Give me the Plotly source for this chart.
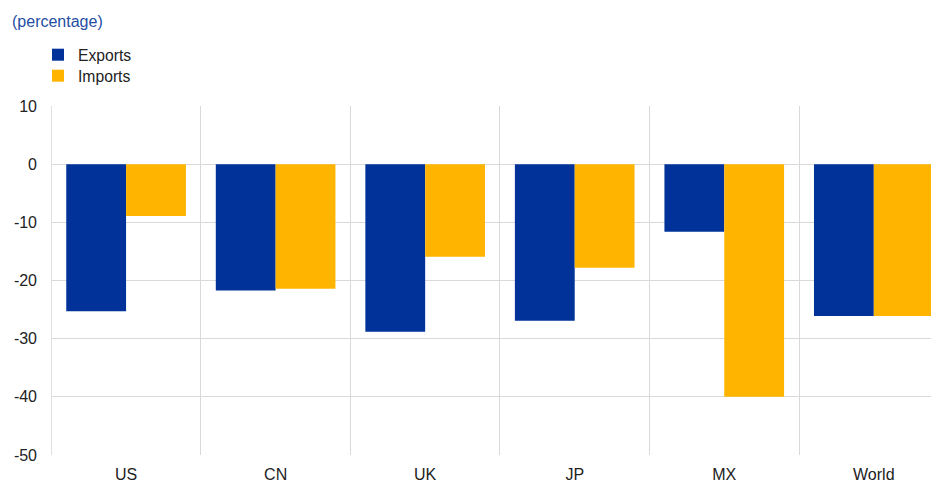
import plotly.graph_objects as go

categories = ["US", "CN", "UK", "JP", "MX", "World"]
exports = [-25.3, -21.7, -28.8, -26.9, -11.6, -26.1]
imports = [-8.9, -21.4, -15.9, -17.8, -40.0, -26.1]
y_ticks = [10, 0, -10, -20, -30, -40, -50]
y_ticktext = ["10", "0", "-10", "-20", "-30", "-40", "-50"]

fig = go.Figure()
fig.add_trace(go.Bar(x=categories, y=exports, name="Exports", marker_color="#003299",
                     marker_line_width=0, legend="legend"))
fig.add_trace(go.Bar(x=categories, y=imports, name="Imports", marker_color="#FFB400",
                     marker_line_width=0, legend="legend2"))

# page body has an 8px offset
L, T, W, H = 43, 98, 888, 349
FW, FH = 931, 474
leg_common = dict(xref="paper", yref="paper", xanchor="left", yanchor="middle",
                  orientation="v", bgcolor="rgba(0,0,0,0)", font=dict(size=15.7),
                  itemwidth=30)
fig.update_layout(
    width=FW, height=FH,
    margin=dict(l=L, r=0, t=T, b=FH - T - H, autoexpand=False),
    plot_bgcolor="white", paper_bgcolor="white",
    font=dict(family="Liberation Sans, Arial", size=16, color="#222222"),
    barmode="group", bargap=0.2, bargroupgap=0,
    showlegend=True,
    legend=dict(x=-13 / W, y=1 + (T - 47) / H, **leg_common),
    legend2=dict(x=-13 / W, y=1 + (T - 68) / H, **leg_common),
    annotations=[dict(text="(percentage)", xref="paper", yref="paper",
                      x=-41 / W, y=1 + (T - 13) / H, xanchor="left", yanchor="middle",
                      showarrow=False, font=dict(size=16, color="#1f4ea3"))],
    xaxis=dict(range=[-0.502, 5.436], tickson="boundaries", showgrid=True,
               gridcolor="#d9d9d9", gridwidth=1, ticks="", showline=False,
               automargin=False, ticklabelstandoff=8, tickfont=dict(size=16)),
    yaxis=dict(range=[-50, 10], tickvals=y_ticks, ticktext=y_ticktext, showgrid=True,
               gridcolor="#d9d9d9", zeroline=True, zerolinecolor="#d9d9d9",
               zerolinewidth=1, ticks="", showline=False, automargin=False,
               ticklabelstandoff=13, tickfont=dict(size=16)),
    shapes=[dict(type="line", xref="x", yref="paper", x0=-0.5, x1=-0.5, y0=0, y1=1,
                 line=dict(color="#d9d9d9", width=1), layer="below")],
)
fig.write_html("out.html")
